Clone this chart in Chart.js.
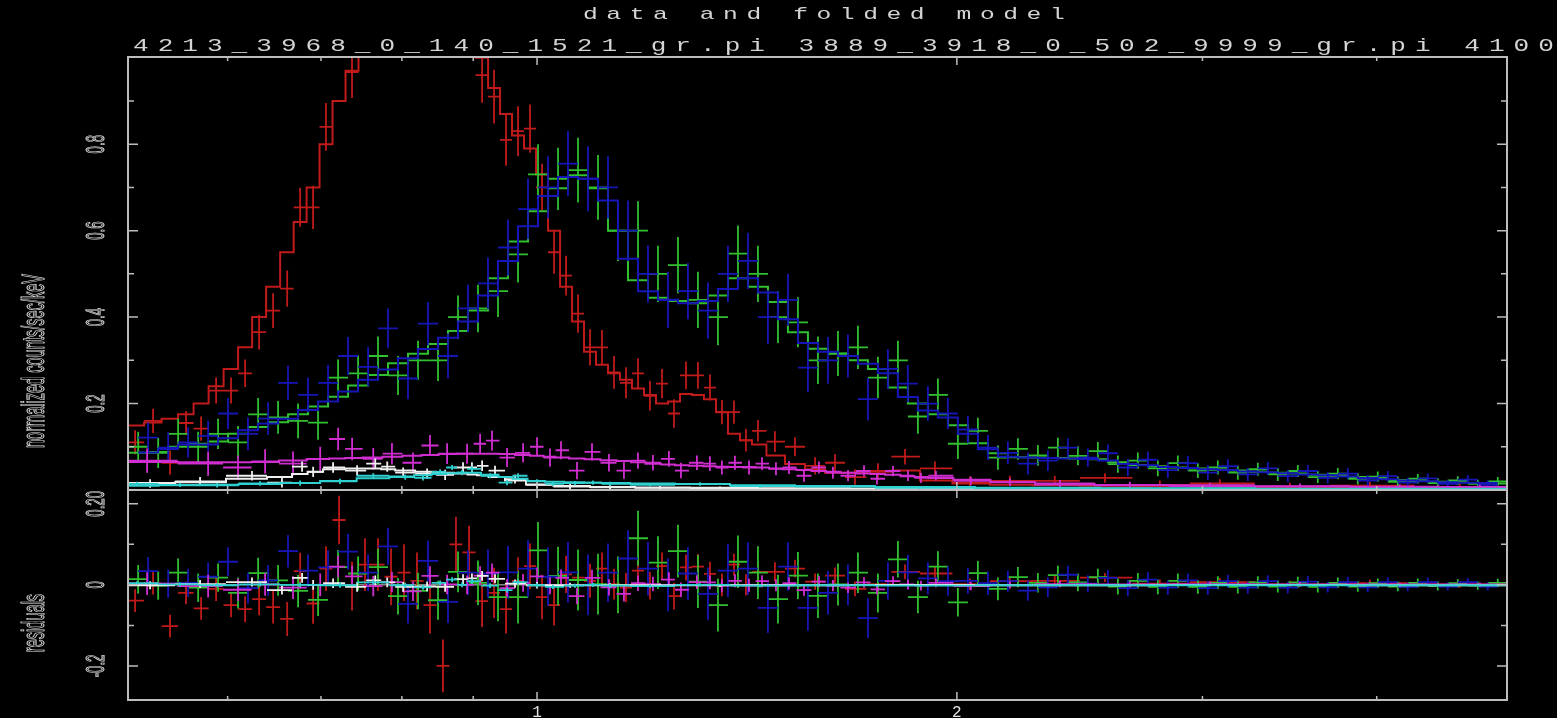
<!DOCTYPE html>
<html>
<head>
<meta charset="utf-8">
<script src="https://cdn.jsdelivr.net/npm/chart.js@4"></script>
<style>
html, body { margin: 0; background: #000; overflow: hidden; }
#wrap { position: relative; width: 1557px; height: 718px; overflow: hidden; background: #000; }
#plot { position: absolute; left: 0; top: 0; }
.txt { position: absolute; color: #d4d4d4; font-family: "Liberation Mono", monospace; white-space: pre; line-height: 1; transform-origin: 0 0; }
#title { left: 583px; top: 6px; font-size: 17px; letter-spacing: 5.9px; transform: scaleX(1.45); }
#files { left: 133px; top: 37px; font-size: 18px; letter-spacing: 6.2px; transform: scaleX(1.45); }
</style>
</head>
<body>
<div id="wrap">
  <canvas id="plot" width="1557" height="718"></canvas>
  <div class="txt" id="title">data and folded model</div>
  <div class="txt" id="files">4213_3968_0_140_1521_gr.pi 3889_3918_0_502_9999_gr.pi 4100</div>
</div>
<script>
// axis ranges and ticks
const xMin = 0.509, xMax = 4.96;
const xTicks = [0.6, 0.7, 0.8, 0.9, 1, 2, 3, 4];
const xTickLabels = { 1: "1", 2: "2" };
const yMax = 1.0017;
const yTicks = [0.1, 0.2, 0.3, 0.4, 0.5, 0.6, 0.7, 0.8, 0.9];
const yTickLabels = { "0.2": "0.2", "0.4": "0.4", "0.6": "0.6", "0.8": "0.8" };
const rMin = -0.284, rMax = 0.234;
const rTicks = [-0.2, -0.1, 0, 0.1, 0.2];
const rTickLabels = { "0.2": "0.20", "0": "0", "-0.2": "-0.2" };
const yTitle = "normalized counts/sec/keV";
const rTitle = "residuals";

// group 1 (red)
const rE = [0.5150, 0.5305, 0.5456, 0.5602, 0.5743, 0.5887, 0.6034, 0.6176, 0.6320, 0.6468,
  0.6620, 0.6763, 0.6909, 0.7058, 0.7212, 0.7368, 0.7527, 0.7691, 0.7858, 0.8028,
  0.8202, 0.8380, 0.8562, 0.8747, 0.8938, 0.9133, 0.9315, 0.9501, 0.9691, 0.9885,
  1.0083, 1.0285, 1.0491, 1.0700, 1.0914, 1.1132, 1.1355, 1.1582, 1.1814, 1.2050,
  1.2292, 1.2537, 1.2788, 1.3043, 1.3305, 1.3571, 1.3842, 1.4119, 1.4401, 1.4811,
  1.5309, 1.5826, 1.6355, 1.6904, 1.7556, 1.8358, 1.9289, 2.0434, 2.1828, 2.3508,
  2.5539, 2.7963, 3.0870, 3.4655, 3.9550, 4.5878];
const rY = [0.110, 0.160, 0.063, 0.155, 0.142, 0.230, 0.230, 0.270, 0.365, 0.415,
  0.466, 0.654, 0.654, 0.840, 1.060, 0.967, 1.100, 1.200, 1.240, 1.300,
  1.320, 1.280, 1.150, 1.300, 1.140, 0.960, 0.910, 0.810, 0.830, 0.836,
  0.700, 0.550, 0.496, 0.408, 0.330, 0.330, 0.272, 0.248, 0.270, 0.218,
  0.246, 0.177, 0.265, 0.265, 0.237, 0.180, 0.180, 0.115, 0.137, 0.112,
  0.100, 0.056, 0.063, 0.030, 0.044, 0.077, 0.050, 0.017, 0.021, 0.021,
  0.028, 0.012, 0.015, 0.008, 0.010, 0.006];
const rErr = [0.028, 0.028, 0.028, 0.028, 0.028, 0.030, 0.030, 0.032, 0.040, 0.040,
  0.042, 0.045, 0.050, 0.055, 0.060, 0.060, 0.065, 0.065, 0.070, 0.070,
  0.070, 0.070, 0.065, 0.068, 0.066, 0.064, 0.062, 0.060, 0.058, 0.056,
  0.055, 0.050, 0.046, 0.044, 0.042, 0.040, 0.038, 0.036, 0.035, 0.034,
  0.034, 0.033, 0.032, 0.031, 0.030, 0.028, 0.027, 0.026, 0.025, 0.024,
  0.022, 0.020, 0.020, 0.018, 0.018, 0.018, 0.016, 0.014, 0.012, 0.012,
  0.011, 0.010, 0.010, 0.009, 0.009, 0.008];
const rM = [0.149, 0.156, 0.165, 0.175, 0.200, 0.240, 0.280, 0.330, 0.400, 0.470,
  0.550, 0.620, 0.700, 0.800, 0.900, 0.970, 1.050, 1.150, 1.220, 1.270,
  1.310, 1.330, 1.350, 1.200, 1.060, 1.000, 0.930, 0.870, 0.820, 0.790,
  0.730, 0.600, 0.470, 0.390, 0.320, 0.290, 0.270, 0.255, 0.235, 0.220,
  0.200, 0.205, 0.222, 0.220, 0.210, 0.180, 0.130, 0.115, 0.105, 0.080,
  0.060, 0.048, 0.040, 0.040, 0.042, 0.045, 0.022, 0.015, 0.012, 0.011,
  0.010, 0.009, 0.008, 0.007, 0.006, 0.005];

// group 2 (green)
const gE = [0.5176, 0.5350, 0.5529, 0.5715, 0.5906, 0.6104, 0.6310, 0.6521, 0.6740, 0.6966,
  0.7200, 0.7442, 0.7691, 0.7949, 0.8216, 0.8492, 0.8777, 0.9071, 0.9376, 0.9691,
  1.0016, 1.0353, 1.0700, 1.1059, 1.1430, 1.1814, 1.2210, 1.2620, 1.3043, 1.3481,
  1.3934, 1.4401, 1.4885, 1.5384, 1.5901, 1.6435, 1.6986, 1.7556, 1.8145, 1.8754,
  1.9384, 2.0034, 2.0707, 2.1402, 2.2120, 2.2862, 2.3630, 2.4423, 2.5243, 2.6090,
  2.6965, 2.7870, 2.8806, 2.9773, 3.0772, 3.1804, 3.2872, 3.3975, 3.5115, 3.6294,
  3.7512, 3.8771, 4.0072, 4.1417, 4.2807, 4.4244, 4.5729, 4.7264, 4.8850];
const gY = [0.100, 0.086, 0.130, 0.100, 0.130, 0.110, 0.175, 0.168, 0.160, 0.156,
  0.260, 0.270, 0.310, 0.265, 0.300, 0.300, 0.400, 0.420, 0.460, 0.545,
  0.730, 0.720, 0.740, 0.700, 0.600, 0.600, 0.500, 0.520, 0.440, 0.400,
  0.547, 0.500, 0.400, 0.388, 0.300, 0.316, 0.330, 0.260, 0.300, 0.170,
  0.220, 0.107, 0.137, 0.075, 0.095, 0.080, 0.098, 0.079, 0.090, 0.060,
  0.068, 0.050, 0.062, 0.045, 0.052, 0.040, 0.048, 0.036, 0.044, 0.030,
  0.038, 0.026, 0.031, 0.019, 0.026, 0.016, 0.022, 0.014, 0.020];
const gErr = [0.035, 0.035, 0.035, 0.035, 0.035, 0.038, 0.038, 0.038, 0.040, 0.040,
  0.042, 0.042, 0.045, 0.045, 0.045, 0.048, 0.050, 0.055, 0.060, 0.065,
  0.070, 0.072, 0.075, 0.075, 0.070, 0.068, 0.065, 0.065, 0.065, 0.065,
  0.065, 0.065, 0.060, 0.058, 0.055, 0.052, 0.050, 0.048, 0.045, 0.040,
  0.038, 0.035, 0.030, 0.028, 0.025, 0.024, 0.023, 0.022, 0.021, 0.020,
  0.019, 0.018, 0.018, 0.017, 0.016, 0.016, 0.015, 0.015, 0.014, 0.014,
  0.013, 0.013, 0.012, 0.012, 0.011, 0.011, 0.010, 0.010, 0.010];
const gM = [0.086, 0.088, 0.100, 0.107, 0.112, 0.130, 0.146, 0.157, 0.175, 0.193,
  0.216, 0.242, 0.266, 0.293, 0.315, 0.338, 0.368, 0.415, 0.490, 0.575,
  0.645, 0.698, 0.728, 0.698, 0.600, 0.485, 0.445, 0.437, 0.432, 0.450,
  0.490, 0.470, 0.435, 0.365, 0.327, 0.315, 0.300, 0.280, 0.237, 0.200,
  0.175, 0.150, 0.108, 0.085, 0.076, 0.075, 0.074, 0.073, 0.071, 0.064,
  0.058, 0.055, 0.052, 0.050, 0.047, 0.045, 0.042, 0.040, 0.038, 0.035,
  0.033, 0.030, 0.027, 0.023, 0.021, 0.019, 0.018, 0.016, 0.015];

// group 3 (blue)
const bE = [0.5262, 0.5439, 0.5621, 0.5810, 0.6004, 0.6205, 0.6415, 0.6629, 0.6852, 0.7082,
  0.7320, 0.7566, 0.7819, 0.8081, 0.8352, 0.8633, 0.8923, 0.9222, 0.9532, 0.9852,
  1.0182, 1.0524, 1.0878, 1.1243, 1.1620, 1.2010, 1.2413, 1.2829, 1.3259, 1.3705,
  1.4165, 1.4640, 1.5132, 1.5639, 1.6165, 1.6708, 1.7268, 1.7847, 1.8445, 1.9065,
  1.9705, 2.0367, 2.1052, 2.1757, 2.2487, 2.3241, 2.4022, 2.4828, 2.5662, 2.6523,
  2.7413, 2.8333, 2.9284, 3.0267, 3.1283, 3.2332, 3.3417, 3.4539, 3.5697, 3.6896,
  3.8135, 3.9414, 4.0737, 4.2104, 4.3517, 4.4978, 4.6488, 4.8049];
const bY = [0.121, 0.098, 0.110, 0.125, 0.177, 0.130, 0.165, 0.248, 0.220, 0.248,
  0.310, 0.285, 0.374, 0.258, 0.385, 0.310, 0.420, 0.478, 0.561, 0.650,
  0.700, 0.755, 0.720, 0.700, 0.600, 0.500, 0.440, 0.460, 0.415, 0.500,
  0.530, 0.400, 0.440, 0.283, 0.300, 0.310, 0.210, 0.280, 0.246, 0.200,
  0.177, 0.140, 0.098, 0.086, 0.061, 0.068, 0.098, 0.075, 0.085, 0.052,
  0.070, 0.046, 0.062, 0.040, 0.055, 0.036, 0.050, 0.032, 0.044, 0.028,
  0.038, 0.022, 0.032, 0.017, 0.027, 0.014, 0.024, 0.012];
const bErr = [0.035, 0.035, 0.035, 0.035, 0.036, 0.038, 0.038, 0.040, 0.040, 0.042,
  0.044, 0.045, 0.046, 0.048, 0.050, 0.052, 0.055, 0.060, 0.065, 0.070,
  0.072, 0.075, 0.075, 0.072, 0.070, 0.066, 0.065, 0.065, 0.065, 0.065,
  0.065, 0.062, 0.060, 0.056, 0.054, 0.050, 0.049, 0.046, 0.043, 0.040,
  0.036, 0.032, 0.029, 0.026, 0.025, 0.024, 0.022, 0.021, 0.020, 0.020,
  0.019, 0.018, 0.017, 0.017, 0.016, 0.015, 0.015, 0.014, 0.014, 0.013,
  0.013, 0.012, 0.012, 0.011, 0.011, 0.010, 0.010, 0.010];
const bM = [0.087, 0.095, 0.105, 0.105, 0.120, 0.138, 0.154, 0.165, 0.185, 0.205,
  0.228, 0.255, 0.279, 0.305, 0.326, 0.352, 0.390, 0.450, 0.530, 0.610,
  0.680, 0.724, 0.720, 0.670, 0.535, 0.460, 0.440, 0.432, 0.437, 0.465,
  0.490, 0.457, 0.395, 0.340, 0.320, 0.310, 0.292, 0.270, 0.215, 0.184,
  0.168, 0.130, 0.094, 0.077, 0.075, 0.074, 0.073, 0.072, 0.068, 0.060,
  0.057, 0.053, 0.051, 0.048, 0.046, 0.043, 0.041, 0.039, 0.036, 0.034,
  0.031, 0.028, 0.025, 0.022, 0.020, 0.018, 0.017, 0.016];

// group 4 (magenta)
const mE = [0.5253, 0.5810, 0.6104, 0.6383, 0.6684, 0.6991, 0.7201, 0.7369, 0.7631, 0.7870,
  0.8148, 0.8380, 0.8620, 0.8909, 0.9103, 0.9284, 0.9517, 0.9772, 1.0000, 1.0217,
  1.0404, 1.0682, 1.0950, 1.1261, 1.1543, 1.1813, 1.2109, 1.2433, 1.2682, 1.3021,
  1.3303, 1.3569, 1.3864, 1.4190, 1.4498, 1.4836, 1.5158, 1.5538, 1.5927, 1.6299,
  1.6710, 1.7157, 1.7529, 1.7999, 1.8449, 1.8848, 1.9320, 2.0468, 2.1833, 2.3713,
  2.6612, 3.0372, 3.5237, 4.1556, 4.7430];
const mY = [0.068, 0.061, 0.052, 0.066, 0.061, 0.072, 0.118, 0.095, 0.072, 0.084,
  0.063, 0.103, 0.084, 0.084, 0.107, 0.114, 0.075, 0.086, 0.100, 0.075,
  0.092, 0.045, 0.088, 0.063, 0.045, 0.068, 0.063, 0.072, 0.045, 0.063,
  0.061, 0.052, 0.063, 0.052, 0.061, 0.049, 0.052, 0.033, 0.052, 0.040,
  0.033, 0.044, 0.026, 0.044, 0.033, 0.028, 0.033, 0.021, 0.018, 0.015,
  0.012, 0.011, 0.009, 0.008, 0.007];
const mErr = [0.028, 0.028, 0.028, 0.028, 0.028, 0.028, 0.026, 0.026, 0.025, 0.025,
  0.024, 0.024, 0.024, 0.023, 0.023, 0.023, 0.022, 0.022, 0.022, 0.021,
  0.021, 0.020, 0.020, 0.020, 0.019, 0.019, 0.018, 0.018, 0.018, 0.017,
  0.017, 0.016, 0.016, 0.016, 0.015, 0.015, 0.015, 0.014, 0.014, 0.014,
  0.013, 0.013, 0.013, 0.012, 0.012, 0.012, 0.011, 0.010, 0.009, 0.008,
  0.007, 0.006, 0.006, 0.005, 0.005];
const mM = [0.065, 0.064, 0.064, 0.065, 0.068, 0.072, 0.073, 0.074, 0.075, 0.077,
  0.079, 0.081, 0.083, 0.084, 0.084, 0.084, 0.083, 0.081, 0.079, 0.077,
  0.075, 0.073, 0.071, 0.069, 0.067, 0.064, 0.061, 0.059, 0.057, 0.056,
  0.055, 0.054, 0.053, 0.053, 0.052, 0.050, 0.048, 0.046, 0.044, 0.042,
  0.040, 0.038, 0.037, 0.035, 0.032, 0.030, 0.028, 0.024, 0.018, 0.013,
  0.011, 0.009, 0.008, 0.007, 0.006];

// group 5 (white)
const wE = [0.5279, 0.5733, 0.6246, 0.6563, 0.6785, 0.6910, 0.7141, 0.7430, 0.7656, 0.7809,
  0.8017, 0.8340, 0.8592, 0.8850, 0.8981, 0.9133, 0.9330, 0.9643, 1.0000, 1.0560,
  1.1282, 1.2250, 1.3526, 1.5436, 1.8201, 2.3325, 3.2444, 4.5133];
const wY = [0.015, 0.020, 0.033, 0.017, 0.054, 0.042, 0.052, 0.045, 0.061, 0.054,
  0.040, 0.038, 0.035, 0.052, 0.052, 0.056, 0.045, 0.025, 0.012, 0.008,
  0.006, 0.005, 0.004, 0.003, 0.003, 0.002, 0.002, 0.001];
const wErr = [0.010, 0.010, 0.011, 0.011, 0.012, 0.012, 0.012, 0.012, 0.012, 0.012,
  0.012, 0.012, 0.012, 0.012, 0.012, 0.012, 0.011, 0.010, 0.008, 0.006,
  0.005, 0.004, 0.004, 0.003, 0.003, 0.002, 0.002, 0.002];
const wM = [0.016, 0.018, 0.026, 0.030, 0.037, 0.042, 0.048, 0.050, 0.050, 0.048,
  0.045, 0.042, 0.040, 0.038, 0.036, 0.034, 0.030, 0.022, 0.013, 0.009,
  0.007, 0.006, 0.005, 0.004, 0.003, 0.003, 0.002, 0.002];

// group 6 (cyan)
const cE = [0.5167, 0.5547, 0.5897, 0.6330, 0.6763, 0.7224, 0.7631, 0.8044, 0.8284, 0.8521,
  0.8692, 0.8836, 0.8981, 0.9254, 0.9517, 0.9691, 1.0000, 1.0268, 1.0647, 1.0968,
  1.1282, 1.2050, 1.3087, 1.4450, 1.6219, 1.8817, 2.2568, 2.8434, 3.7634, 4.7430];
const cY = [0.014, 0.012, 0.011, 0.015, 0.016, 0.020, 0.033, 0.030, 0.028, 0.042,
  0.052, 0.040, 0.049, 0.033, 0.017, 0.033, 0.020, 0.014, 0.016, 0.017,
  0.014, 0.012, 0.014, 0.009, 0.008, 0.005, 0.004, 0.003, 0.002, 0.002];
const cErr = [0.005, 0.005, 0.005, 0.005, 0.006, 0.006, 0.006, 0.006, 0.006, 0.006,
  0.006, 0.006, 0.006, 0.006, 0.006, 0.006, 0.005, 0.005, 0.005, 0.005,
  0.005, 0.004, 0.004, 0.004, 0.003, 0.003, 0.003, 0.002, 0.002, 0.002];
const cM = [0.010, 0.011, 0.012, 0.014, 0.016, 0.021, 0.027, 0.031, 0.034, 0.037,
  0.039, 0.040, 0.040, 0.035, 0.030, 0.026, 0.021, 0.019, 0.018, 0.017,
  0.016, 0.015, 0.014, 0.011, 0.009, 0.007, 0.005, 0.004, 0.003, 0.003];

const groups = [
  { color: "#c01a1a", e: rE, y: rY, err: rErr, m: rM },
  { color: "#30c030", e: gE, y: gY, err: gErr, m: gM },
  { color: "#1616b8", e: bE, y: bY, err: bErr, m: bM },
  { color: "#d02ed0", e: mE, y: mY, err: mErr, m: mM },
  { color: "#f0f0f0", e: wE, y: wY, err: wErr, m: wM },
  { color: "#2ed0d0", e: cE, y: cY, err: cErr, m: cM },
];

// channel boundaries halfway (in log) between neighbouring bins
function binEdges(e) {
  const lo = [], hi = [];
  for (let i = 0; i < e.length; i++) {
    const l = i > 0 ? Math.sqrt(e[i - 1] * e[i]) : e[0] * e[0] / Math.sqrt(e[0] * e[1]);
    const h = i < e.length - 1 ? Math.sqrt(e[i] * e[i + 1]) : e[i] * e[i] / Math.sqrt(e[i - 1] * e[i]);
    lo.push(l);
    hi.push(h);
  }
  return { lo, hi };
}
groups.forEach(g => Object.assign(g, binEdges(g.e)));

function stepPoints(g) {
  const pts = [];
  g.e.forEach((_, i) => {
    pts.push({ x: g.lo[i], y: g.m[i] }, { x: g.hi[i], y: g.m[i] });
  });
  return pts;
}

function drawCrosses(chart, g) {
  const { ctx } = chart;
  const { x, y, yr } = chart.scales;
  ctx.save();
  ctx.strokeStyle = g.color;
  ctx.lineWidth = 1.8;
  [[y, i => g.y[i]], [yr, i => g.y[i] - g.m[i]]].forEach(([s, val]) => {
    ctx.save();
    ctx.beginPath();
    ctx.rect(x.left, s.top, x.right - x.left, s.bottom - s.top);
    ctx.clip();
    ctx.beginPath();
    g.e.forEach((e, i) => {
      const v = val(i);
      const px = x.getPixelForValue(e);
      const py = s.getPixelForValue(v);
      ctx.moveTo(x.getPixelForValue(g.lo[i]), py);
      ctx.lineTo(x.getPixelForValue(g.hi[i]), py);
      ctx.moveTo(px, s.getPixelForValue(v - g.err[i]));
      ctx.lineTo(px, s.getPixelForValue(v + g.err[i]));
    });
    ctx.stroke();
    ctx.restore();
  });
  ctx.restore();
}

// rotated, narrow label reading bottom to top; bx is the baseline x
function vText(ctx, text, bx, cy, size, sx) {
  ctx.save();
  ctx.translate(bx, cy);
  ctx.rotate(-Math.PI / 2);
  ctx.scale(sx, 1);
  ctx.font = size + 'px "Liberation Sans"';
  ctx.textAlign = "center";
  ctx.textBaseline = "alphabetic";
  ctx.strokeText(text, 0, 0);
  ctx.restore();
}

const xspecFrame = {
  id: "xspecFrame",
  beforeDatasetDraw(chart, args) {
    const ds = chart.data.datasets[args.index];
    if (ds.group !== undefined) drawCrosses(chart, groups[ds.group]);
  },
  afterDraw(chart) {
    const { ctx } = chart;
    const { x, y, yr } = chart.scales;
    ctx.save();
    ctx.strokeStyle = "#bdbdbd";
    ctx.lineWidth = 2;
    [y, yr].forEach(p => ctx.strokeRect(x.left, p.top, x.right - x.left, p.bottom - p.top));
    ctx.lineWidth = 1.5;
    ctx.beginPath();
    [[y, yTickLabels], [yr, rTickLabels]].forEach(([p, labels]) => {
      x.ticks.forEach(t => {
        const px = x.getPixelForValue(t.value);
        const len = xTickLabels[t.value] ? 8 : 4;
        ctx.moveTo(px, p.top); ctx.lineTo(px, p.top + len);
        ctx.moveTo(px, p.bottom); ctx.lineTo(px, p.bottom - len);
      });
      p.ticks.forEach(t => {
        const py = p.getPixelForValue(t.value);
        const len = labels[String(t.value)] ? 10 : 6;
        ctx.moveTo(x.left, py); ctx.lineTo(x.left + len, py);
        ctx.moveTo(x.right, py); ctx.lineTo(x.right - len, py);
      });
    });
    ctx.stroke();

    ctx.strokeStyle = "#e2e2e2";
    ctx.lineWidth = 1;
    [[y, yTickLabels], [yr, rTickLabels]].forEach(([p, labels]) => {
      p.ticks.forEach(t => {
        const lab = labels[String(t.value)];
        if (lab) vText(ctx, lab, 104, p.getPixelForValue(t.value), 25, 0.53);
      });
    });
    vText(ctx, yTitle, 44, 361, 31, 0.47);
    vText(ctx, rTitle, 44, 623, 31, 0.47);
    ctx.restore();
  }
};

const datasets = [
  {
    data: [{ x: xMin, y: 0 }, { x: xMax, y: 0 }],
    yAxisID: "yr", borderColor: "#cfcfcf", borderWidth: 1, order: 10,
  },
];
groups.forEach((g, i) => {
  datasets.push({
    group: i,
    data: stepPoints(g),
    yAxisID: "y",
    borderColor: g.color,
    borderWidth: 2,
    order: groups.length - i,
  });
});

const hidden = { display: false, drawTicks: false };

new Chart(document.getElementById("plot").getContext("2d"), {
  type: "line",
  data: { datasets },
  options: {
    responsive: false,
    animation: false,
    devicePixelRatio: 1,
    layout: { padding: { left: 128, right: 50, top: 57, bottom: 0 } },
    elements: { point: { radius: 0 }, line: { tension: 0 } },
    plugins: { legend: { display: false }, tooltip: { enabled: false } },
    scales: {
      x: {
        type: "logarithmic", min: xMin, max: xMax,
        afterBuildTicks: s => { s.ticks = xTicks.map(v => ({ value: v })); },
        ticks: {
          autoSkip: false, maxRotation: 0, padding: 3, color: "#e2e2e2",
          font: { family: "Liberation Mono", size: 16 },
          callback: v => xTickLabels[v] || "",
        },
        grid: hidden, border: { display: false },
        afterFit: s => { s.height = 18; },
      },
      y: {
        type: "linear", position: "left", min: 0, max: yMax,
        stack: "panels", stackWeight: 433, weight: 1,
        afterBuildTicks: s => { s.ticks = yTicks.map(v => ({ value: v })); },
        ticks: { display: false }, grid: hidden, border: { display: false },
        afterFit: s => { s.width = 0; },
      },
      yr: {
        type: "linear", position: "left", min: rMin, max: rMax,
        stack: "panels", stackWeight: 210, weight: 0,
        afterBuildTicks: s => { s.ticks = rTicks.map(v => ({ value: v })); },
        ticks: { display: false }, grid: hidden, border: { display: false },
        afterFit: s => { s.width = 0; },
      },
    },
  },
  plugins: [xspecFrame],
});
</script>
</body>
</html>
